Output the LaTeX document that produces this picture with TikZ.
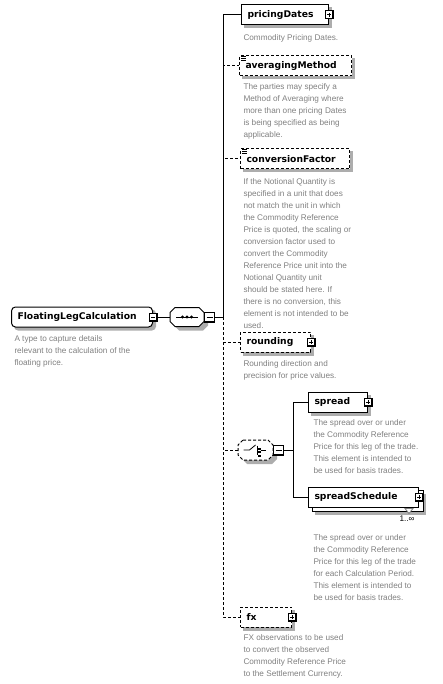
\documentclass[tikz,border=0pt]{standalone}
\usepackage{fontspec}
\setmainfont{DejaVu Sans}
\newfontfamily\docfont{Liberation Sans}
\usetikzlibrary{backgrounds}
\definecolor{docgray}{HTML}{808080}
\colorlet{shadegray}{black!32}

% octagon outline round a compositor node, shifted down right by #1
\newcommand\octagon[2]{([xshift=5+#1,yshift=-#1]#2.north west) -- ([xshift=-5+#1,yshift=-#1]#2.north east)
  -- ([xshift=#1,yshift=-5-#1]#2.north east) -- ([xshift=#1,yshift=5-#1]#2.south east)
  -- ([xshift=-5+#1,yshift=-#1]#2.south east) -- ([xshift=5+#1,yshift=-#1]#2.south west)
  -- ([xshift=#1,yshift=5-#1]#2.south west) -- ([xshift=#1,yshift=-5-#1]#2.north west) -- cycle}

\tikzset{
  elem/.style={draw, fill=white, anchor=west, minimum height=20, inner xsep=6, inner ysep=0,
    text width=#1, align=left, font=\bfseries\fontsize{9.2}{10}\selectfont},
  optelem/.style={elem=#1, dash pattern=on 3pt off 2pt},
  opt/.style={dash pattern=on 3pt off 2pt},
  doc/.style={anchor=north west, inner sep=0, align=left, text=docgray,
    font=\docfont\fontsize{8.2}{12}\selectfont},
  btn/.style={draw, fill=white, minimum size=8, inner sep=0},
  plusbtn/.style={btn, path picture={
    \draw ([xshift=2]path picture bounding box.west) -- ([xshift=-2]path picture bounding box.east);
    \draw ([yshift=-2]path picture bounding box.north) -- ([yshift=2]path picture bounding box.south);
    \draw[line width=1.6] (path picture bounding box.north east) -- (path picture bounding box.south east)
      -- (path picture bounding box.south west);}},
  minusbtn/.style={btn, path picture={
    \draw ([xshift=2]path picture bounding box.west) -- ([xshift=-2]path picture bounding box.east);
    \draw[line width=1.6] (path picture bounding box.north east) -- (path picture bounding box.south east)
      -- (path picture bounding box.south west);}},
  compositor/.style={anchor=west, minimum width=33, minimum height=18, inner sep=0},
}

\begin{document}
\begin{tikzpicture}[x=1pt, y=-1pt, line width=1pt]
\useasboundingbox (0,0) rectangle (443,684);

% Root type
\node[elem=129, rounded corners=4] (flc) at (11,317) {FloatingLegCalculation};
\node[minusbtn] (flcbtn) at (flc.east) {};
\node[doc] (flcdoc) at (14,335) {A type to capture details\\relevant to the calculation of the\\floating price.};

% Sequence
\node[compositor] (seq) at (170,317) {};
\draw[fill=white] \octagon{0}{seq};
\draw ([xshift=-11]seq.center) -- ([xshift=11]seq.center);
\foreach \dx in {-4.5,0,4.5} \fill ([xshift=\dx]seq.center) circle (1.6);
\node[minusbtn, minimum size=10, anchor=west] (seqbtn) at (seq.east) {};
\coordinate (bus) at (223,317);
\draw (flcbtn.east) -- (seq.west);
\draw (seqbtn.east) -- (bus);

% pricingDates
\node[elem=75] (pricing) at (241,15) {pricingDates};
\node[plusbtn] (pricingbtn) at (pricing.east) {};
\node[doc] (pricingdoc) at (243,34) {Commodity Pricing Dates.};
\draw (bus) |- (pricing.west);

% averagingMethod
\node[optelem=100] (avg) at (239,66) {averagingMethod};
\foreach \dy in {1,3,5} \draw[line width=0.7] ([xshift=2,yshift=-\dy]avg.north west) -- ++(5,0);
\node[doc] (avgdoc) at (243,83) {The parties may specify a\\Method of Averaging where\\more than one pricing Dates\\is being specified as being\\applicable.};
\draw[opt] (bus) |- (avg.west);

% conversionFactor
\node[optelem=97] (conv) at (240,159) {conversionFactor};
\foreach \dy in {1,3,5} \draw[line width=0.7] ([xshift=2,yshift=-\dy]conv.north west) -- ++(5,0);
\node[doc] (convdoc) at (243,178) {If the Notional Quantity is\\specified in a unit that does\\not match the unit in which\\the Commodity Reference\\Price is quoted, the scaling or\\conversion factor used to\\convert the Commodity\\Reference Price unit into the\\Notional Quantity unit\\should be stated here. If\\there is no conversion, this\\element is not intended to be\\used.};
\draw[opt] (bus) |- (conv.west);

% rounding
\node[optelem=58] (round) at (240,342) {rounding};
\node[plusbtn] (roundbtn) at (round.east) {};
\node[doc] (rounddoc) at (243,360) {Rounding direction and\\precision for price values.};
\draw[opt] (bus) |- (round.west);

% Choice
\node[compositor, minimum width=34, minimum height=19] (choice) at (238,450) {};
\draw[opt, fill=white] \octagon{0}{choice};
\draw[line width=0.8] ([xshift=-12]choice.center) -- ([xshift=-6]choice.center) -- ([yshift=5]choice.center);
\draw[line width=0.8] ([xshift=2,yshift=4.5]choice.center) -- ([xshift=2,yshift=-4.5]choice.center);
\foreach \dy in {-3.5,0,3.5} \fill ([xshift=2.5,yshift=\dy-1]choice.center) rectangle ++(2.5,2);
\draw[line width=0.8] ([xshift=5]choice.center) -- ([xshift=10]choice.center);
\node[minusbtn, minimum size=10, anchor=west] (choicebtn) at (choice.east) {};
\coordinate (cbus) at (293,450);
\draw[opt] (bus) |- (choice.west);
\draw (choicebtn.east) -- (cbus);

% spread
\node[elem=47] (spread) at (308,402) {spread};
\node[plusbtn] (spreadbtn) at (spread.east) {};
\node[doc] (spreaddoc) at (313,419) {The spread over or under\\the Commodity Reference\\Price for this leg of the trade.\\This element is intended to\\be used for basis trades.};
\draw (cbus) |- (spread.west);

% spreadSchedule
\node[elem=98] (sched) at (308,497) {spreadSchedule};
\node[plusbtn] (schedbtn) at (sched.east) {};
\draw[docgray, fill=white, line width=0.8] ([xshift=-14,yshift=-1]sched.south east) -- ++(8,0) -- ++(-4,5) -- cycle;
\node[anchor=east, inner sep=0, font=\docfont\fontsize{8.2}{10}\selectfont] (schedmult) at (415,519) {1..∞};
\node[doc] (scheddoc) at (313,534) {The spread over or under\\the Commodity Reference\\Price for this leg of the trade\\for each Calculation Period.\\This element is intended to\\be used for basis trades.};
\draw (cbus) |- (sched.west);

% fx
\node[optelem=39] (fx) at (240,617) {fx};
\node[plusbtn] (fxbtn) at (fx.east) {};
\node[doc] (fxdoc) at (243,634) {FX observations to be used\\to convert the observed\\Commodity Reference Price\\to the Settlement Currency.};
\draw[opt] (bus) |- (fx.west);

% Shadows
\begin{scope}[on background layer]
  \fill[shadegray, rounded corners=4] ([xshift=3,yshift=-3]flc.north west) rectangle ([xshift=3,yshift=-3]flc.south east);
  \foreach \n in {pricing,avg,conv,round,spread,fx}
    \fill[shadegray] ([xshift=3,yshift=-3]\n.north west) rectangle ([xshift=3,yshift=-3]\n.south east);
  \fill[shadegray] \octagon{4}{seq};
  \fill[shadegray] \octagon{4}{choice};
  \fill[shadegray] ([xshift=7,yshift=-7]sched.north west) rectangle ([xshift=7,yshift=-7]sched.south east);
  \draw[fill=white] ([xshift=4,yshift=-4]sched.north west) rectangle ([xshift=4,yshift=-4]sched.south east);
\end{scope}
\end{tikzpicture}
\end{document}
